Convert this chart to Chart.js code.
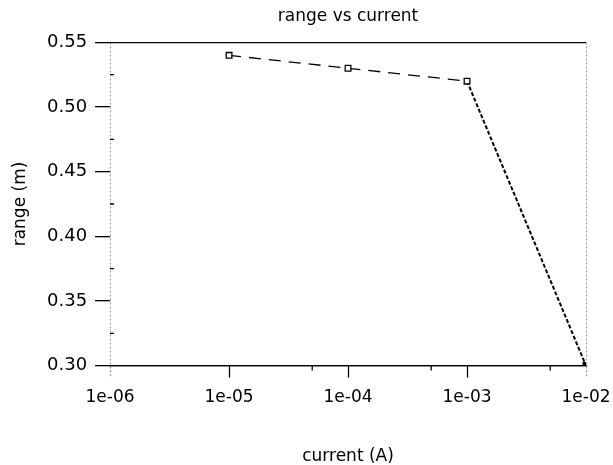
<!DOCTYPE html>
<html>
<head>
<meta charset="utf-8">
<title>range vs current</title>
<script src="https://cdn.jsdelivr.net/npm/chart.js@4/dist/chart.umd.min.js"></script>
<style>
  html, body { margin: 0; padding: 0; background: #fff; }
  #wrap { width: 613px; height: 465px; }
</style>
</head>
<body>
<div id="wrap"><canvas id="chart"></canvas></div>
<script>
'use strict';

/* ── data ── */
const currents = [1e-5, 1e-4, 1e-3, 1e-2];
const ranges   = [0.54, 0.53, 0.52, 0.30];

const xMajorTicks  = [1e-6, 1e-5, 1e-4, 1e-3, 1e-2];
const xMajorLabels = ['1e-06', '1e-05', '1e-04', '1e-03', '1e-02'];
const xMinorTicks  = [5e-5, 5e-4, 5e-3];
const yTicks       = [0.30, 0.35, 0.40, 0.45, 0.50, 0.55];
const yMinorTicks  = [0.325, 0.375, 0.425, 0.475, 0.525];

const FONT = 'DejaVu Sans, Verdana, sans-serif';
const near = (a, b) => Math.abs(a - b) < 1e-9 * Math.max(1, Math.abs(b));
const isEnd = v => near(v, 1e-6) || near(v, 1e-2);

// short minor tick marks, placed through the scales
const minorTicks = {
  id: 'minorTicks',
  afterDraw(chart) {
    const { ctx, scales: { x, y } } = chart;
    ctx.save();
    ctx.strokeStyle = '#000';
    ctx.lineWidth = 1.3;
    ctx.beginPath();
    xMinorTicks.forEach(v => {
      const px = x.getPixelForValue(v);
      ctx.moveTo(px, y.bottom);
      ctx.lineTo(px, y.bottom + 5);
    });
    yMinorTicks.forEach(v => {
      const py = y.getPixelForValue(v);
      ctx.moveTo(x.left, py);
      ctx.lineTo(x.left + 4, py);
    });
    ctx.stroke();
    ctx.restore();
  }
};

new Chart(document.getElementById('chart'), {
  type: 'line',
  data: {
    datasets: [{
      data: currents.map((c, i) => ({ x: c, y: ranges[i] })),
      borderColor: '#000',
      borderWidth: 1.3,
      pointStyle: 'rect',
      pointRadius: 4,
      pointBorderWidth: 1.3,
      pointBackgroundColor: ctx => ctx.dataIndex === currents.length - 1 ? '#000' : '#fff',
      pointBorderColor: '#000',
      segment: {
        borderDash: ctx => ctx.p1DataIndex < 3 ? [12, 8] : [4, 2],
        borderWidth: ctx => ctx.p1DataIndex < 3 ? 1.3 : 2,
      },
    }]
  },
  plugins: [minorTicks],
  options: {
    responsive: true,
    maintainAspectRatio: false,
    devicePixelRatio: 1,
    animation: false,
    layout: { padding: { left: 4, right: 0, top: 0, bottom: 0 } },
    plugins: {
      legend: { display: false },
      tooltip: { enabled: false },
      title: {
        display: true,
        fullSize: false,
        text: 'range vs current',
        color: '#000',
        font: { family: FONT, size: 17, weight: 'normal', lineHeight: 1.2 },
        padding: { top: 6, bottom: 16 },
      },
    },
    scales: {
      x: {
        type: 'logarithmic',
        min: 1e-6,
        max: 1e-2,
        afterBuildTicks: scale => {
          scale.ticks = xMajorTicks.map(v => ({ value: v }));
        },
        afterFit: scale => { scale.paddingRight = 27; },
        ticks: {
          autoSkip: false,
          maxRotation: 0,
          color: '#000',
          padding: 10,
          font: { family: FONT, size: 17 },
          callback: v => {
            const i = xMajorTicks.findIndex(t => near(t, v));
            return i >= 0 ? xMajorLabels[i] : '';
          },
        },
        grid: {
          drawOnChartArea: true,
          color: ctx => (ctx.tick && isEnd(ctx.tick.value)) ? '#9a9a9a' : 'rgba(0,0,0,0)',
          tickColor: ctx => (ctx.tick && isEnd(ctx.tick.value)) ? '#9a9a9a' : '#000',
          tickBorderDash: ctx => (ctx.tick && isEnd(ctx.tick.value)) ? [2, 2] : [],
          tickWidth: 1.3,
          tickLength: 12,
        },
        border: { display: true, color: '#000', width: 1.3, dash: [2, 2] },
        title: {
          display: true,
          text: 'current (A)',
          color: '#000',
          font: { family: FONT, size: 17, lineHeight: 1 },
          padding: { top: 30, bottom: 0 },
        },
      },
      y: {
        min: 0.30,
        max: 0.55,
        afterBuildTicks: scale => {
          scale.ticks = yTicks.map(v => ({ value: v }));
        },
        ticks: {
          color: '#000',
          padding: 8,
          font: { family: FONT, size: 18 },
          callback: v => v.toFixed(2),
        },
        grid: {
          color: ctx => (ctx.tick && (near(ctx.tick.value, 0.30) || near(ctx.tick.value, 0.55))) ? '#000' : 'rgba(0,0,0,0)',
          lineWidth: 1.3,
          tickColor: '#000',
          tickWidth: 1.3,
          tickLength: 15,
        },
        border: { display: false },
        title: {
          display: true,
          text: 'range (m)',
          color: '#000',
          font: { family: FONT, size: 17, lineHeight: 1 },
          padding: { top: 8, bottom: 10 },
        },
      },
    },
  },
});
</script>
</body>
</html>
